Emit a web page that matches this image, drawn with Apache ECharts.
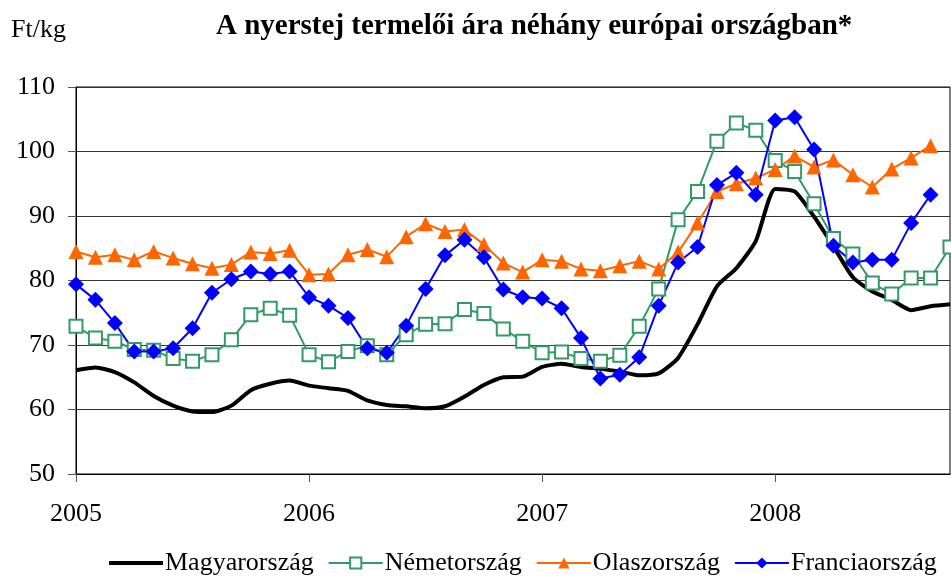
<!DOCTYPE html>
<html>
<head>
<meta charset="utf-8">
<script src="https://cdn.jsdelivr.net/npm/echarts@6/dist/echarts.min.js"></script>
<style>
  html, body { margin: 0; padding: 0; background: #fff; }
  #container { width: 951px; height: 577px; }
</style>
</head>
<body>
<div id="container"></div>
<script>
    // havi adatok 2005 jan - 2008 okt
    var years = ['2005', '2006', '2007', '2008'];
    var months = [];
    for (var y = 0; y < years.length; y++) {
      for (var m = 1; m <= 12; m++) {
        if (months.length < 46) months.push(years[y] + '-' + (m < 10 ? '0' + m : m));
      }
    }

    var magyar = [66.1, 66.5, 65.8, 64.2, 62.1, 60.6, 59.7, 59.6, 60.6, 63.0, 64.0, 64.5,
      63.7, 63.3, 62.9, 61.4, 60.7, 60.5, 60.2, 60.5, 62.0, 63.8, 65.0, 65.1,
      66.6, 67.1, 66.6, 66.3, 65.9, 65.3, 65.6, 68.0, 73.2, 79.1, 81.9, 86.1,
      94.2, 93.8, 89.9, 85.3, 80.5, 78.3, 77.0, 75.4, 76.0, 76.3];
    var nemet = [72.9, 71.1, 70.6, 69.3, 69.2, 67.9, 67.5, 68.5, 70.8, 74.7, 75.7, 74.6,
      68.5, 67.4, 69.0, 69.9, 68.5, 71.6, 73.2, 73.3, 75.5, 74.9, 72.5, 70.6,
      68.8, 68.9, 67.9, 67.5, 68.4, 72.9, 78.7, 89.4, 93.8, 101.6, 104.4, 103.3,
      98.6, 96.9, 91.9, 86.5, 84.1, 79.6, 77.9, 80.4, 80.4, 85.2];
    var olasz = [84.5, 83.6, 84.0, 83.2, 84.5, 83.5, 82.6, 81.9, 82.5, 84.4, 84.2, 84.7,
      80.9, 81.0, 84.0, 84.8, 83.7, 86.8, 88.8, 87.6, 87.9, 85.6, 82.7, 81.3,
      83.2, 83.0, 81.8, 81.5, 82.3, 83.0, 81.8, 84.4, 88.9, 93.8, 95.0, 95.9,
      97.2, 99.3, 97.6, 98.7, 96.4, 94.5, 97.3, 99.0, 100.9];
    var francia = [79.4, 77.0, 73.4, 69.0, 69.0, 69.5, 72.6, 78.1, 80.2, 81.4, 81.0, 81.4,
      77.4, 76.1, 74.2, 69.5, 68.8, 73.0, 78.7, 83.9, 86.3, 83.6, 78.6, 77.4,
      77.2, 75.7, 71.1, 64.8, 65.4, 68.1, 76.1, 82.8, 85.2, 94.8, 96.7, 93.3,
      104.8, 105.3, 100.3, 85.4, 82.8, 83.2, 83.2, 88.9, 93.3];

    var serif = "'Liberation Serif', 'Times New Roman', serif";

    var dom = document.getElementById('container');
    var myChart = echarts.init(dom, null, { renderer: 'canvas' });

    var option = {
      animation: false,
      textStyle: { fontFamily: serif, color: '#000' },
      title: {
        text: 'A nyerstej termelői ára néhány európai országban*',
        left: 211,
        top: 7,
        textStyle: { fontFamily: serif, fontSize: 29, fontWeight: 'bold', color: '#000' }
      },
      graphic: [{
        type: 'text',
        left: 11,
        top: 17,
        style: { text: 'Ft/kg', font: '26px ' + serif, fill: '#000' }
      }],
      legend: {
        left: 102,
        top: 545,
        itemWidth: 54,
        itemHeight: 14,
        itemGap: 14,
        textStyle: { fontFamily: serif, fontSize: 26, color: '#000', padding: [0, 0, 0, -3] },
        data: [
          { name: 'Magyarország', itemStyle: { opacity: 0 }, lineStyle: { width: 4 } },
          'Németország', 'Olaszország', 'Franciaország'
        ]
      },
      grid: {
        left: 76, right: 1, top: 87, bottom: 103,
        show: true, borderColor: '#000', borderWidth: 1
      },
      xAxis: {
        type: 'category',
        data: months,
        boundaryGap: false,
        axisLine: { lineStyle: { color: '#000', width: 1 } },
        axisTick: {
          length: 8,
          lineStyle: { color: '#555' },
          interval: function (i) { return i % 12 === 0; }
        },
        axisLabel: {
          margin: 27,
          fontSize: 26,
          fontFamily: serif,
          color: '#000',
          interval: function (i) { return i % 12 === 0; },
          formatter: function (v) { return v.slice(0, 4); }
        },
        splitLine: { show: false }
      },
      yAxis: {
        type: 'value',
        min: 50,
        max: 110,
        interval: 10,
        axisLine: { show: true, lineStyle: { color: '#000' } },
        axisTick: { show: true, length: 8, lineStyle: { color: '#555' } },
        axisLabel: { margin: 21, fontSize: 26, fontFamily: serif, color: '#000' },
        splitLine: { lineStyle: { color: '#333', width: 1 } }
      },
      series: [
        {
          name: 'Magyarország',
          type: 'line',
          data: magyar,
          showSymbol: false,
          symbol: 'none',
          smooth: 0.2,
          lineStyle: { color: '#000', width: 4 },
          itemStyle: { color: '#000' }
        },
        {
          name: 'Németország',
          type: 'line',
          data: nemet,
          showAllSymbol: true,
          symbol: 'rect',
          symbolSize: 13,
          lineStyle: { color: '#339966', width: 2 },
          itemStyle: { color: '#fff', borderColor: '#339966', borderWidth: 2 }
        },
        {
          name: 'Olaszország',
          type: 'line',
          data: olasz,
          showAllSymbol: true,
          symbol: 'triangle',
          symbolSize: 15,
          lineStyle: { color: '#FF6600', width: 2 },
          itemStyle: { color: '#FF6600' }
        },
        {
          name: 'Franciaország',
          type: 'line',
          data: francia,
          showAllSymbol: true,
          symbol: 'diamond',
          symbolSize: 16,
          lineStyle: { color: '#0000FF', width: 2 },
          itemStyle: { color: '#0000FF' }
        }
      ]
    };

    myChart.setOption(option);
    window.addEventListener('resize', myChart.resize);
</script>
</body>
</html>
